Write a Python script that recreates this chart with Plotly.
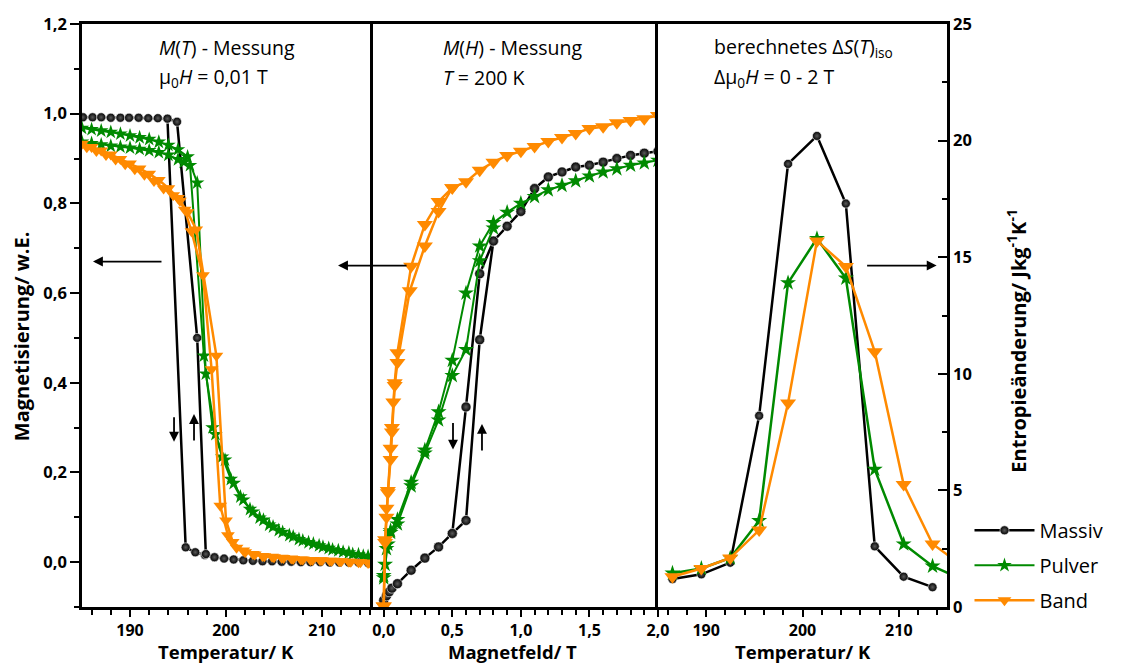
import plotly.graph_objects as go

# ---------------- M(T) measurement, mu0H = 0.01 T ----------------
# Massiv: cooling branch and heating branch
T_mass_c = [185.1, 186.1, 187.0, 188.0, 189.0, 189.9, 190.9, 191.9, 192.9, 193.9,
            195.8, 196.8, 197.8, 198.8, 199.8, 200.8, 201.8, 202.8, 203.8, 204.8,
            205.8, 206.8, 207.8, 208.8, 209.8, 210.8, 211.8, 212.8, 213.8, 214.8]
M_mass_c = [0.992, 0.992, 0.992, 0.991, 0.991, 0.991, 0.991, 0.990, 0.990, 0.989,
            0.033, 0.022, 0.016, 0.011, 0.008, 0.006, 0.004, 0.003, 0.002, 0.002,
            0.001, 0.001, 0.000, 0.000, 0.000, -0.001, -0.001, -0.001, -0.001, -0.002]
T_mass_h = [193.9, 194.9, 197.0, 197.9, 198.8]
M_mass_h = [0.989, 0.982, 0.500, 0.018, 0.011]

# Pulver: two branches
T_pulv_a = [185.0, 186.0, 187.0, 188.0, 189.0, 190.0, 191.0, 192.0, 193.0, 194.0,
            195.0, 196.0, 197.0, 197.9, 198.9, 199.9, 200.8, 201.8, 202.8, 203.9,
            204.9, 205.9, 207.0, 208.0, 209.1, 210.1, 211.1, 212.2, 213.2, 214.3, 215.3]
M_pulv_a = [0.968, 0.965, 0.962, 0.959, 0.955, 0.951, 0.947, 0.943, 0.937, 0.930,
            0.920, 0.904, 0.846, 0.420, 0.285, 0.228, 0.176, 0.139, 0.112, 0.094,
            0.079, 0.067, 0.057, 0.048, 0.041, 0.034, 0.028, 0.023, 0.018, 0.014, 0.011]
T_pulv_b = [185.0, 186.0, 187.0, 188.0, 189.0, 190.0, 191.0, 192.0, 193.0, 194.0,
            195.0, 195.6, 196.25, 197.7, 198.6, 199.6, 200.5, 201.5, 202.5, 203.5,
            204.5, 205.5, 206.6, 207.6, 208.6, 209.7, 210.7, 211.7, 212.8, 213.8, 214.8]
M_pulv_b = [0.937, 0.934, 0.931, 0.928, 0.926, 0.924, 0.921, 0.918, 0.914, 0.908,
            0.898, 0.892, 0.885, 0.460, 0.300, 0.235, 0.185, 0.146, 0.118, 0.099,
            0.083, 0.071, 0.060, 0.051, 0.044, 0.037, 0.031, 0.026, 0.021, 0.017, 0.013]

# Band: two branches
T_band_a = [185.0, 186.0, 187.0, 188.0, 189.0, 190.0, 191.0, 192.0, 193.0, 194.0,
            195.0, 195.7, 196.4, 197.6, 198.5, 199.4, 200.2, 201.1, 202.0, 203.0,
            204.0, 205.0, 206.0, 207.0, 208.0, 209.0, 210.0, 211.0, 212.0, 213.0,
            214.0, 215.0]
M_band_a = [0.933, 0.926, 0.918, 0.909, 0.899, 0.889, 0.878, 0.866, 0.852, 0.834,
            0.812, 0.786, 0.738, 0.640, 0.430, 0.126, 0.060, 0.032, 0.022, 0.017,
            0.013, 0.011, 0.009, 0.007, 0.006, 0.005, 0.004, 0.003, 0.002, 0.001,
            0.000, -0.001]
T_band_b = [185.5, 186.5, 187.5, 188.5, 189.5, 190.5, 191.5, 192.5, 193.5, 194.5,
            195.2, 196.0, 196.9, 199.0, 200.0, 200.7, 201.8, 202.8, 203.8, 204.8,
            205.8, 206.8, 207.8, 208.8, 209.8, 210.8, 211.8, 212.8, 213.8, 214.8]
M_band_b = [0.925, 0.917, 0.908, 0.898, 0.887, 0.876, 0.864, 0.850, 0.833, 0.818,
            0.806, 0.780, 0.742, 0.460, 0.093, 0.045, 0.026, 0.018, 0.014, 0.012,
            0.010, 0.008, 0.006, 0.005, 0.004, 0.003, 0.002, 0.001, 0.000, -0.002]

# ---------------- M(H) measurement, T = 200 K ----------------
H_mass_up = [0.0, 0.02, 0.04, 0.06, 0.1, 0.2, 0.3, 0.4, 0.5, 0.6, 0.7, 0.8, 0.9,
             1.0, 1.1, 1.2, 1.3, 1.4, 1.5, 1.6, 1.7, 1.8, 1.9, 2.0]
M_mass_up = [-0.085, -0.075, -0.066, -0.058, -0.048, -0.018, 0.009, 0.034, 0.064,
             0.093, 0.496, 0.716, 0.749, 0.782, 0.833, 0.859, 0.870, 0.881, 0.885,
             0.892, 0.900, 0.907, 0.912, 0.916]
H_mass_dn = [0.8, 0.7, 0.6, 0.5]
M_mass_dn = [0.716, 0.643, 0.346, 0.064]

H_pulv_dn = [2.0, 1.9, 1.8, 1.7, 1.6, 1.5, 1.4, 1.3, 1.2, 1.1, 1.0, 0.9, 0.8,
             0.7, 0.6, 0.5, 0.4, 0.3, 0.2, 0.1, 0.05, 0.02, 0.0]
M_pulv_dn = [0.896, 0.890, 0.885, 0.877, 0.870, 0.861, 0.850, 0.840, 0.830, 0.815,
             0.800, 0.780, 0.757, 0.705, 0.600, 0.450, 0.335, 0.250, 0.178, 0.095,
             0.070, 0.030, -0.030]
H_pulv_up = [0.0, 0.01, 0.03, 0.05, 0.1, 0.2, 0.3, 0.4, 0.5, 0.6, 0.7, 0.8]
M_pulv_up = [-0.035, -0.005, 0.040, 0.066, 0.085, 0.170, 0.243, 0.317, 0.416,
             0.474, 0.672, 0.745]

H_band_dn = [2.0, 1.9, 1.8, 1.7, 1.6, 1.5, 1.4, 1.3, 1.2, 1.1, 1.0, 0.9, 0.8,
             0.7, 0.6, 0.5, 0.4, 0.3, 0.2, 0.1, 0.08, 0.06, 0.05, 0.03, 0.02, 0.01, 0.0]
M_band_dn = [0.996, 0.989, 0.985, 0.980, 0.971, 0.967, 0.956, 0.947, 0.938, 0.927,
             0.916, 0.907, 0.892, 0.874, 0.848, 0.835, 0.804, 0.753, 0.660, 0.467,
             0.400, 0.300, 0.254, 0.160, 0.120, 0.050, -0.098]
H_band_up = [0.0, 0.01, 0.02, 0.03, 0.05, 0.06, 0.07, 0.08, 0.1, 0.19, 0.3, 0.4, 0.5]
M_band_up = [-0.098, 0.044, 0.100, 0.155, 0.229, 0.290, 0.357, 0.394, 0.445,
             0.605, 0.705, 0.782, 0.835]

# ---------------- calculated isothermal entropy change, 0 - 2 T ----------------
T_dS = [186.5, 189.5, 192.5, 195.5, 198.5, 201.5, 204.5, 207.5, 210.5, 213.5, 216.5]
dS_mass = [1.2, 1.4, 1.9, 8.2, 19.0, 20.2, 17.3, 2.6, 1.3, 0.85]
dS_pulv = [1.45, 1.65, 2.1, 3.7, 13.9, 15.8, 14.1, 5.9, 2.7, 1.75, 1.2]
dS_band = [1.3, 1.65, 2.1, 3.3, 8.75, 15.7, 14.6, 10.95, 5.25, 2.7, 1.8]

BLACK = "#000000"
GREEN = "#008a00"
ORANGE = "#ff8a00"
FONT = "Open Sans"

def sphere(size):
    return dict(symbol="circle", size=size, color=BLACK,
                gradient=dict(type="radial", color="#5a5a5a"),
                line=dict(width=0.6, color="#ffffff"))

def star(size):
    return dict(symbol="star", size=size, color=GREEN, line=dict(width=0))

def tri(size):
    return dict(symbol="triangle-down", size=size, color=ORANGE, line=dict(width=0))

fig = go.Figure()

def add(x, y, xa, ya, name, color, width, marker, show):
    fig.add_trace(go.Scatter(
        x=x, y=y, xaxis=xa, yaxis=ya, mode="lines+markers", name=name,
        legendgroup=name, showlegend=show,
        line=dict(color=color, width=width), marker=marker, cliponaxis=True))

# M(T) panel
add(T_mass_c, M_mass_c, "x", "y", "Massiv", BLACK, 2.5, sphere(9), True)
add(T_mass_h, M_mass_h, "x", "y", "Massiv", BLACK, 2.5, sphere(9), False)
add(T_pulv_a, M_pulv_a, "x", "y", "Pulver", GREEN, 2, star(11), True)
add(T_pulv_b, M_pulv_b, "x", "y", "Pulver", GREEN, 2, star(11), False)
add(T_band_a, M_band_a, "x", "y", "Band", ORANGE, 2.5, tri(12), True)
add(T_band_b, M_band_b, "x", "y", "Band", ORANGE, 2.5, tri(12), False)

# M(H) panel
add(H_mass_up, M_mass_up, "x2", "y", "Massiv", BLACK, 2.5, sphere(10), False)
add(H_mass_dn, M_mass_dn, "x2", "y", "Massiv", BLACK, 2.5, sphere(10), False)
add(H_pulv_dn, M_pulv_dn, "x2", "y", "Pulver", GREEN, 2, star(12), False)
add(H_pulv_up, M_pulv_up, "x2", "y", "Pulver", GREEN, 2, star(12), False)
add(H_band_dn, M_band_dn, "x2", "y", "Band", ORANGE, 2.5, tri(14), False)
add(H_band_up, M_band_up, "x2", "y", "Band", ORANGE, 2.5, tri(14), False)

# Delta S panel
add(T_dS[:len(dS_mass)], dS_mass, "x3", "y2", "Massiv", BLACK, 2.5, sphere(9), False)
add(T_dS, dS_pulv, "x3", "y2", "Pulver", GREEN, 2.5, star(12), False)
add(T_dS, dS_band, "x3", "y2", "Band", ORANGE, 2.5, tri(14), False)

tickfont = dict(family=FONT, size=16, color=BLACK, weight=700)
common_x = dict(showline=True, linecolor=BLACK, linewidth=2.5, mirror=True,
                ticks="outside", ticklen=7, tickwidth=2, tickcolor=BLACK,
                showgrid=False, zeroline=False, tickfont=tickfont)

d1, d2 = 288 / 865, 576 / 865

fig.update_layout(
    width=1124, height=668,
    margin=dict(l=82, r=177, t=18, b=61),
    paper_bgcolor="white", plot_bgcolor="white",
    separators=",.",
    font=dict(family=FONT, color=BLACK),
    xaxis=dict(domain=[0, d1], range=[185, 215], tick0=190, dtick=10, anchor="y",
               minor=dict(dtick=2, tick0=0, ticks="outside", ticklen=5, tickwidth=2,
                          tickcolor=BLACK), **common_x),
    xaxis2=dict(domain=[d1, d2], range=[-0.1, 2.0], tick0=0, dtick=0.5,
                tickformat=".1f", anchor="y",
                minor=dict(dtick=0.1, tick0=0, ticks="outside", ticklen=5, tickwidth=2,
                           tickcolor=BLACK), **common_x),
    xaxis3=dict(domain=[d2, 1], range=[185, 215], tick0=190, dtick=10, anchor="y2",
                minor=dict(dtick=2, tick0=0, ticks="outside", ticklen=5, tickwidth=2,
                           tickcolor=BLACK), **common_x),
    yaxis=dict(domain=[0, 1], range=[-0.1, 1.2], tick0=0, dtick=0.2, tickformat=".1f",
               anchor="x", showline=True, linecolor=BLACK, linewidth=2.5, mirror=True,
               ticks="outside", ticklen=9, tickwidth=2, tickcolor=BLACK,
               minor=dict(dtick=0.1, tick0=0, ticks="outside", ticklen=5, tickwidth=2,
                          tickcolor=BLACK),
               showgrid=False, zeroline=False,
               tickfont=dict(family=FONT, size=16.5, color=BLACK, weight=700)),
    yaxis2=dict(domain=[0, 1], range=[0, 25], tick0=0, dtick=5, side="right",
                anchor="x3", showline=True, linecolor=BLACK, linewidth=2.5, mirror=True,
                ticks="inside", ticklen=9, tickwidth=2, tickcolor=BLACK,
                minor=dict(dtick=2.5, tick0=0, ticks="inside", ticklen=5, tickwidth=2,
                           tickcolor=BLACK),
                showgrid=False, zeroline=False,
                tickfont=dict(family=FONT, size=16.5, color=BLACK, weight=700)),
    legend=dict(x=1.026, y=0.165, xanchor="left", yanchor="top",
                font=dict(family=FONT, size=20, color=BLACK),
                bgcolor="rgba(0,0,0,0)", tracegroupgap=6, itemwidth=60),
)

label_font = dict(family=FONT, size=19.5, color=BLACK)
title_font = dict(family=FONT, size=20, color=BLACK, weight=700)

annotations = [
    # panel headers
    dict(x=0.0867, y=0.959, text="<i>M</i>(<i>T</i>) - Messung"),
    dict(x=0.0867, y=0.908, text="µ<sub>0</sub><i>H</i> = 0,01 T"),
    dict(x=0.415, y=0.959, text="<i>M</i>(<i>H</i>) - Messung"),
    dict(x=0.415, y=0.908, text="<i>T</i> = 200 K"),
    dict(x=0.728, y=0.959, text="berechnetes Δ<i>S</i>(<i>T</i>)<sub>iso</sub>"),
    dict(x=0.728, y=0.908, text="Δµ<sub>0</sub><i>H</i> = 0 - 2 T"),
]
for a in annotations:
    fig.add_annotation(xref="paper", yref="paper", xanchor="left", yanchor="middle",
                       showarrow=False, font=label_font, **a)

# axis titles
fig.add_annotation(xref="paper", yref="paper", x=-0.069, y=0.465, textangle=-90,
                   xanchor="center", yanchor="middle",
                   text="Magnetisierung/ w.E.", showarrow=False, font=title_font)
fig.add_annotation(xref="paper", yref="paper", x=1.081, y=0.457, textangle=-90,
                   xanchor="center", yanchor="middle",
                   text="Entropieänderung/ Jkg<sup>-1</sup>K<sup>-1</sup>",
                   showarrow=False, font=title_font)
for xp, txt in [(0.1665, "Temperatur/ K"), (0.498, "Magnetfeld/ T"),
                (0.8335, "Temperatur/ K")]:
    fig.add_annotation(xref="paper", yref="paper", x=xp, y=-0.1019, text=txt,
                       xanchor="center", yanchor="bottom",
                       showarrow=False, font=dict(family=FONT, size=18.5, color=BLACK,
                                                  weight=700))

# arrows pointing to the relevant y axis
arrow = dict(xref="paper", yref="paper", text="", showarrow=True, arrowhead=2,
             arrowsize=1.1, arrowwidth=1.8, arrowcolor=BLACK)
fig.add_annotation(x=0.0127, y=0.5925, ax=70, ay=0, **arrow)
fig.add_annotation(x=0.296, y=0.5857, ax=70, ay=0, **arrow)
fig.add_annotation(x=0.988, y=0.5857, ax=-71, ay=0, **arrow)
# cooling / heating direction markers
fig.add_annotation(x=0.1064, y=0.2835, ax=0, ay=-26, **arrow)
fig.add_annotation(x=0.1295, y=0.331, ax=0, ay=28, **arrow)
fig.add_annotation(x=0.4289, y=0.27, ax=0, ay=-28, **arrow)
fig.add_annotation(x=0.4624, y=0.314, ax=0, ay=28, **arrow)

fig.write_html("out.html")
